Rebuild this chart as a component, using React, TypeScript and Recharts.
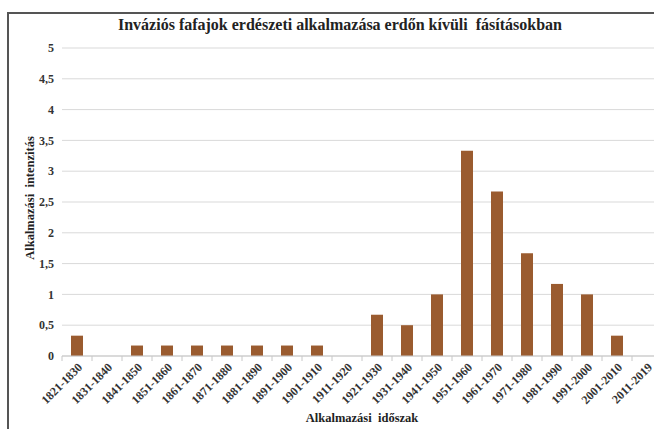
import { BarChart, Bar, XAxis, YAxis, CartesianGrid } from "recharts";

const periods = [
  "1821-1830", "1831-1840", "1841-1850", "1851-1860", "1861-1870",
  "1871-1880", "1881-1890", "1891-1900", "1901-1910", "1911-1920",
  "1921-1930", "1931-1940", "1941-1950", "1951-1960", "1961-1970",
  "1971-1980", "1981-1990", "1991-2000", "2001-2010", "2011-2019",
];
const intensity = [
  0.33, 0, 0.17, 0.17, 0.17, 0.17, 0.17, 0.17, 0.17, 0,
  0.67, 0.5, 1, 3.33, 2.67, 1.67, 1.17, 1, 0.33, 0,
];
const yTicks = [0, 0.5, 1, 1.5, 2, 2.5, 3, 3.5, 4, 4.5, 5];

const data = periods.map((p, i) => ({ period: p, value: intensity[i] }));

const font = "'Liberation Serif', 'Times New Roman', serif";

const XTick = (props: any) => {
  const { x, y, payload } = props;
  return (
    <g>
      <line x1={x - 15} x2={x - 15} y1={y - 8} y2={y - 3} stroke="#c8c8c8" />
      <text
        x={x + 6}
        y={y + 4}
        textAnchor="end"
        transform={`rotate(-45, ${x + 6}, ${y + 4})`}
        fontFamily={font}
        fontWeight="bold"
        fontSize={12}
        fill="#333"
      >
        {payload.value}
      </text>
    </g>
  );
};

export default function App() {
  return (
    <div
      style={{
        position: "absolute",
        left: 0,
        top: 0,
        width: 654,
        height: 429,
        overflow: "hidden",
        background: "#fff",
      }}
    >
      <div
        style={{
          position: "absolute",
          left: 7,
          top: 12,
          width: 700,
          height: 500,
          borderLeft: "2px solid #555",
          borderTop: "2px solid #555",
        }}
      />
      <div
        style={{
          position: "absolute",
          left: 0,
          top: 16,
          width: 680,
          textAlign: "center",
          fontFamily: font,
          fontWeight: "bold",
          fontSize: 16,
          color: "#222",
        }}
      >
        Inváziós fafajok erdészeti alkalmazása erdőn kívüli&nbsp; fásításokban
      </div>
      <div
        style={{
          position: "absolute",
          left: 0,
          top: 411,
          width: 724,
          textAlign: "center",
          fontFamily: font,
          fontWeight: "bold",
          fontSize: 12.5,
          color: "#222",
        }}
      >
        Alkalmazási&nbsp; időszak
      </div>
      <div
        style={{
          position: "absolute",
          left: 30,
          top: 198,
          transform: "translate(-50%, -50%) rotate(-90deg)",
          whiteSpace: "nowrap",
          fontFamily: font,
          fontWeight: "bold",
          fontSize: 12.5,
          color: "#222",
        }}
      >
        Alkalmazási&nbsp; intenzitás
      </div>
      <div style={{ position: "absolute", left: 0, top: 0 }}>
        <BarChart
          width={680}
          height={429}
          data={data}
          margin={{ top: 48, right: 18, bottom: 0, left: 0 }}
        >
          <CartesianGrid vertical={false} stroke="#d9d9d9" />
          <XAxis
            dataKey="period"
            interval={0}
            height={73}
            axisLine={{ stroke: "#c8c8c8" }}
            tickLine={false}
            tick={<XTick />}
          />
          <YAxis
            width={62}
            domain={[0, 5]}
            ticks={yTicks}
            axisLine={false}
            tickLine={false}
            tickFormatter={(v: number) => String(v).replace(".", ",")}
            tick={{ fontFamily: font, fontWeight: "bold", fontSize: 12, fill: "#333" }}
          />
          <Bar dataKey="value" fill="#9a5b2f" barSize={12} isAnimationActive={false} />
        </BarChart>
      </div>
    </div>
  );
}
